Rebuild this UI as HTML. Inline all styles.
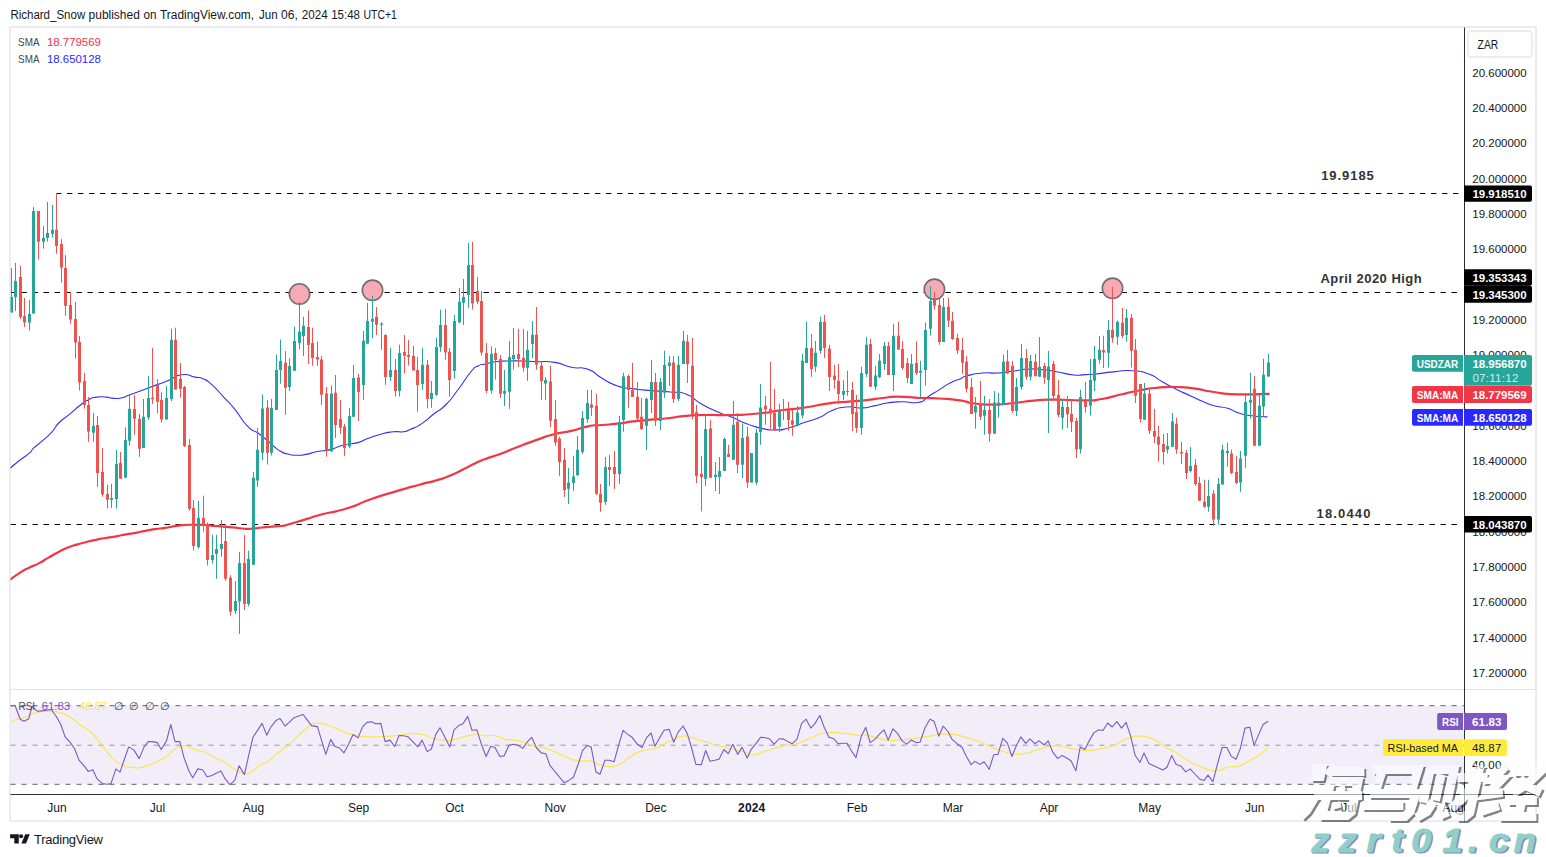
<!DOCTYPE html>
<html><head><meta charset="utf-8"><title>USDZAR chart</title>
<style>
html,body{margin:0;padding:0;background:#fff;}
body{width:1546px;height:857px;overflow:hidden;position:relative;font-family:"Liberation Sans",sans-serif;}
svg{position:absolute;left:0;top:0;}
text{font-family:"Liberation Sans",sans-serif;}
.ax{font-size:11.5px;fill:#131722;}
.lb{font-size:11.5px;font-weight:bold;fill:#fff;}
.tm{font-size:12px;fill:#131722;text-anchor:middle;}
</style></head><body>
<svg width="1546" height="857" viewBox="0 0 1546 857">
<defs>
<filter id="ws" x="-5%" y="-10%" width="110%" height="130%"><feGaussianBlur in="SourceAlpha" stdDeviation="0.75"/><feOffset dx="1.6" dy="1.6" result="o"/><feComposite in="o" in2="SourceAlpha" operator="out" result="s"/><feFlood flood-color="#20222c" flood-opacity="0.56"/><feComposite in2="s" operator="in"/></filter>
<clipPath id="cp"><rect x="10.5" y="27.5" width="1453.5" height="662"/></clipPath>
<clipPath id="cr"><rect x="10.5" y="690" width="1453.5" height="104"/></clipPath>
</defs>
<rect x="0" y="0" width="1546" height="857" fill="#fff"/>

<rect x="10" y="27" width="1526" height="794.1" fill="none" stroke="#ebecf2" stroke-width="2"/>
<rect x="10.5" y="689" width="1525" height="1" fill="#e0e3eb"/>
<rect x="10.5" y="705.7" width="1453.5" height="78.6" fill="#f1eefa"/>
<path d="M10.5 705.7H1464" stroke="#5d606b" stroke-width="1" stroke-dasharray="5 6" fill="none"/>
<path d="M10.5 784.3H1464" stroke="#5d606b" stroke-width="1" stroke-dasharray="5 6" fill="none"/>
<path d="M10.5 745.2H1464" stroke="#9598a1" stroke-width="1" stroke-dasharray="5 6" fill="none"/>
<g clip-path="url(#cp)">
<path d="M56 193.5H1460" stroke="#000" stroke-width="1.1" stroke-dasharray="5.4 5.6" fill="none"/>
<path d="M10.5 292.5H1460" stroke="#000" stroke-width="1.1" stroke-dasharray="5.4 5.6" fill="none"/>
<path d="M10.5 524.5H1460" stroke="#000" stroke-width="1.1" stroke-dasharray="5.4 5.6" fill="none"/>
<circle cx="299.5" cy="294" r="10.2" fill="#f7a9b4" fill-opacity="1" stroke="#6e6e6e" stroke-width="1.6"/>
<circle cx="372.5" cy="290.3" r="10.2" fill="#f7a9b4" fill-opacity="1" stroke="#6e6e6e" stroke-width="1.6"/>
<circle cx="934.4" cy="289.3" r="10.2" fill="#f7a9b4" fill-opacity="1" stroke="#6e6e6e" stroke-width="1.6"/>
<circle cx="1112.5" cy="288.3" r="10.2" fill="#f7a9b4" fill-opacity="1" stroke="#6e6e6e" stroke-width="1.6"/>
<path d="M10.1 468.2C12.8 466.0 11.8 466.5 18.2 461.5C24.6 456.5 24.3 457.5 29.4 453.1C34.5 448.7 29.4 452.2 33.6 448.2C37.8 444.2 35.9 446.6 42.0 441.2C48.1 435.8 46.2 438.2 51.8 432.1C57.4 426.0 52.7 429.1 58.8 423.0C64.9 416.9 63.0 419.7 70.0 413.9C77.0 408.1 73.7 410.2 79.8 405.5C85.9 400.8 82.6 402.7 88.2 399.9C93.8 397.1 90.5 398.0 96.6 397.1C102.7 396.2 101.3 396.8 106.4 397.1C111.5 397.4 107.1 397.8 112.0 398.1C116.9 398.4 115.0 399.1 121.0 398.0C127.0 396.9 120.7 398.1 130.0 394.7C139.3 391.3 136.4 392.4 149.0 387.7C161.6 383.0 156.8 385.0 167.7 380.7C178.6 376.4 172.6 376.0 181.7 374.8C190.8 373.6 187.9 375.8 195.0 377.1C202.1 378.4 197.3 376.2 202.9 378.7C208.5 381.2 205.0 378.7 211.8 384.7C218.6 390.7 215.7 388.6 223.4 396.8C231.1 405.0 226.9 399.6 234.9 409.4C242.9 419.2 239.8 418.3 247.5 426.2C255.2 434.1 251.7 428.5 258.0 433.0C264.3 437.5 259.7 434.3 266.4 439.8C273.1 445.3 270.9 444.9 278.0 449.6C285.1 454.3 281.3 452.1 287.8 454.0C294.3 455.9 291.5 455.1 297.6 455.2C303.7 455.3 299.4 455.6 306.0 454.4C312.6 453.2 309.4 453.1 317.5 451.5C325.6 449.9 321.8 451.8 330.4 449.6C339.0 447.4 334.2 447.3 343.4 445.0C352.6 442.7 349.8 444.7 357.9 442.6C366.0 440.5 360.0 441.4 367.6 438.6C375.2 435.8 372.0 436.5 380.6 434.2C389.2 431.9 386.0 432.6 393.5 431.8C401.0 431.0 397.9 432.5 403.2 431.8C408.5 431.1 403.3 432.4 409.5 429.7C415.7 427.0 413.6 428.9 421.8 423.6C430.0 418.3 425.9 420.2 434.0 413.8C442.1 407.4 437.8 412.8 446.0 404.5C454.2 396.2 450.2 399.8 458.5 389.0C466.8 378.2 464.3 379.7 470.8 372.0C477.3 364.3 473.1 368.7 478.0 366.0C482.9 363.3 479.8 365.4 485.5 364.0C491.2 362.6 487.7 362.8 495.0 361.8C502.3 360.8 498.5 361.3 507.5 361.0C516.5 360.7 512.3 360.8 522.0 361.0C531.7 361.2 525.8 361.1 536.7 361.6C547.6 362.1 543.2 360.5 554.7 362.4C566.2 364.3 560.2 365.0 571.3 367.3C582.4 369.6 577.8 365.6 588.0 369.3C598.2 373.0 592.1 372.7 602.0 378.3C611.9 383.9 607.3 382.6 617.6 386.0C627.9 389.4 622.7 387.1 633.0 388.6C643.3 390.1 635.9 389.3 648.4 390.4C660.9 391.5 657.9 390.8 670.4 392.0C682.9 393.2 675.6 390.1 685.8 394.0C696.0 397.9 690.7 397.9 701.0 403.7C711.3 409.5 706.3 406.9 716.6 411.4C726.9 415.9 721.7 413.1 732.0 417.3C742.3 421.5 737.1 420.2 747.4 424.0C757.7 427.8 753.4 426.6 762.8 428.6C772.2 430.6 767.1 430.1 775.7 429.9C784.3 429.7 778.7 430.5 788.5 428.0C798.3 425.5 794.5 425.9 805.0 422.3C815.5 418.7 811.2 421.1 819.9 417.3C828.6 413.5 822.3 414.4 831.0 411.0C839.7 407.6 836.0 408.0 846.0 407.0C856.0 406.0 851.7 408.3 861.0 407.9C870.3 407.5 865.3 407.5 874.0 405.9C882.7 404.3 877.7 404.4 887.0 403.0C896.3 401.6 891.4 402.0 902.0 401.8C912.6 401.6 910.1 404.0 918.8 402.3C927.5 400.6 921.1 400.9 928.0 396.7C934.9 392.5 931.9 394.3 939.4 389.6C946.9 384.9 943.7 386.2 950.6 382.7C957.5 379.2 954.7 381.2 960.0 379.0C965.3 376.8 959.1 378.0 966.6 376.0C974.1 374.0 971.9 374.0 982.4 373.0C992.9 372.0 987.5 373.7 998.0 373.0C1008.5 372.3 1003.3 372.3 1014.0 371.0C1024.7 369.7 1020.0 369.4 1030.0 369.0C1040.0 368.6 1034.7 368.8 1044.0 369.8C1053.3 370.8 1047.9 370.3 1057.8 372.0C1067.7 373.7 1064.6 374.1 1073.7 375.0C1082.8 375.9 1077.9 374.9 1085.0 374.6C1092.1 374.3 1085.4 374.9 1095.0 374.0C1104.6 373.1 1101.3 373.0 1113.7 371.9C1126.1 370.8 1120.6 370.0 1132.3 370.7C1144.0 371.4 1138.6 370.3 1148.7 374.0C1158.8 377.7 1153.4 376.8 1162.7 381.9C1172.0 387.0 1167.4 384.7 1176.7 389.4C1186.0 394.1 1181.9 391.8 1190.7 395.9C1199.5 400.0 1195.2 398.3 1203.0 401.6C1210.8 404.9 1205.8 403.6 1214.0 405.8C1222.2 408.0 1219.4 405.9 1227.6 408.3C1235.8 410.7 1230.6 410.5 1238.7 413.0C1246.8 415.5 1242.4 414.5 1252.0 415.8C1261.6 417.1 1262.3 416.5 1267.5 416.9" stroke="#2f2ffb" stroke-width="1.1" fill="none" stroke-linejoin="round"/>
<path d="M10.1 579.6C13.2 577.4 13.1 577.1 19.4 573.1C25.7 569.1 22.6 570.9 29.1 567.7C35.6 564.5 32.3 566.8 38.8 563.4C45.3 560.0 42.0 561.3 48.5 557.6C55.0 553.9 51.7 555.6 58.2 552.2C64.7 548.8 61.4 550.1 67.9 547.5C74.4 544.9 71.1 546.3 77.6 544.4C84.1 542.5 80.8 543.3 87.3 541.7C93.8 540.1 90.5 540.9 97.0 539.6C103.5 538.3 100.2 538.9 106.7 537.8C113.2 536.7 109.9 537.5 116.4 536.3C122.9 535.1 119.6 535.5 126.1 534.3C132.6 533.1 129.3 534.0 135.8 532.8C142.3 531.6 139.0 532.0 145.5 530.8C152.0 529.6 148.8 530.1 155.3 529.1C161.8 528.1 158.5 528.9 165.0 527.9C171.5 526.9 168.2 527.2 174.7 526.2C181.2 525.2 178.0 525.5 184.4 525.0C190.8 524.5 187.5 524.8 194.0 524.8C200.5 524.8 197.3 524.7 203.8 525.0C210.3 525.3 207.0 525.3 213.5 525.8C220.0 526.3 216.7 526.1 223.2 526.6C229.7 527.1 226.4 526.8 232.9 527.4C239.4 528.0 236.1 528.1 242.6 528.5C249.1 528.9 245.8 529.0 252.3 528.7C258.8 528.4 255.5 528.2 262.0 527.5C268.5 526.8 265.2 527.1 271.7 526.6C278.2 526.1 275.3 526.9 281.4 526.0C287.5 525.1 281.7 526.3 290.0 524.0C298.3 521.7 295.4 522.3 306.2 519.1C317.0 515.9 308.8 517.8 322.3 514.3C335.8 510.8 330.4 513.5 346.6 508.5C362.8 503.5 354.7 504.8 370.9 499.2C387.1 493.6 378.9 496.4 395.1 491.6C411.3 486.8 405.9 488.4 419.4 484.7C432.9 481.0 424.7 483.8 435.5 480.6C446.3 477.4 440.9 479.6 451.7 475.0C462.5 470.4 457.1 472.0 467.9 466.9C478.7 461.8 473.2 463.9 484.0 459.6C494.8 455.3 489.4 458.0 500.2 454.0C511.0 450.0 504.2 452.2 516.4 447.5C528.6 442.8 523.9 444.4 536.7 439.9C549.5 435.4 543.2 437.0 554.7 434.0C566.2 431.0 560.2 433.5 571.3 430.9C582.4 428.3 577.8 428.3 588.0 426.3C598.2 424.3 592.1 425.9 602.0 425.0C611.9 424.1 607.3 424.9 617.6 423.7C627.9 422.5 622.7 422.7 633.0 421.4C643.3 420.1 636.1 421.0 648.4 419.9C660.7 418.8 657.5 419.4 670.0 418.0C682.5 416.6 673.8 416.8 685.8 415.8C697.8 414.8 690.6 415.3 706.0 415.0C721.4 414.7 714.8 415.5 732.0 415.0C749.2 414.5 740.6 415.2 757.7 413.5C774.8 411.8 767.6 412.0 783.4 410.0C799.2 408.0 790.5 409.6 805.0 407.5C819.5 405.4 813.3 405.5 827.0 403.6C840.7 401.7 833.4 402.9 846.0 401.8C858.6 400.7 852.4 401.7 864.7 400.4C877.0 399.1 871.9 399.2 883.0 398.0C894.1 396.8 885.4 396.7 898.0 396.7C910.6 396.7 906.9 397.4 920.7 398.0C934.5 398.6 926.3 397.7 939.4 398.5C952.5 399.3 948.3 398.7 960.0 400.4C971.7 402.1 963.1 402.1 974.5 403.5C985.9 404.9 981.1 404.7 994.3 404.5C1007.5 404.3 1000.8 404.3 1014.0 403.0C1027.2 401.7 1020.7 401.7 1034.0 400.6C1047.3 399.5 1036.9 399.7 1053.9 399.6C1070.9 399.5 1069.0 400.5 1085.0 400.3C1101.0 400.1 1090.1 400.9 1102.0 399.0C1113.9 397.1 1108.4 397.3 1120.7 394.5C1133.0 391.7 1126.6 392.8 1139.0 390.5C1151.4 388.2 1145.4 388.9 1158.0 387.7C1170.6 386.5 1164.4 386.7 1176.7 387.0C1189.0 387.3 1182.6 387.0 1195.0 388.7C1207.4 390.4 1200.2 390.1 1214.0 392.0C1227.8 393.9 1218.3 393.7 1236.5 394.3C1254.7 394.9 1258.0 394.0 1268.7 393.9" stroke="#f23645" stroke-width="2.2" fill="none" stroke-linejoin="round" stroke-linecap="round"/>
<path d="M11.5 268.0V312.5M15.5 263.0V311.0M29.5 300.0V330.6M33.5 207.0V313.6M43.5 226.0V248.7M47.5 202.0V241.7M52.5 205.0V237.5M93.5 413.0V441.8M111.5 483.8V507.9M116.5 450.0V508.6M125.5 427.4V477.8M129.5 394.0V445.6M143.5 399.0V447.9M148.5 376.0V419.9M166.5 386.0V419.6M171.5 328.9V401.0M198.5 501.0V548.8M212.5 534.9V563.5M216.5 534.9V578.7M221.5 520.0V556.7M235.5 581.0V613.8M239.5 551.8V633.9M248.5 550.8V606.4M253.5 472.0V564.8M257.5 427.8V486.7M262.5 394.7V460.0M271.5 399.0V455.4M276.5 354.7V409.9M280.5 339.5V383.7M289.5 358.4V391.0M294.5 326.6V370.7M299.5 302.0V349.0M303.5 316.8V356.0M331.5 385.4V451.5M349.5 407.9V448.3M353.5 365.0V416.7M363.5 331.0V400.0M367.5 303.0V343.7M372.5 296.0V338.3M381.5 322.4V349.8M390.5 348.0V381.0M399.5 344.7V396.6M422.5 348.0V389.8M431.5 381.0V407.7M436.5 337.8V395.9M440.5 309.6V351.8M454.5 315.0V378.7M459.5 288.0V322.6M463.5 279.0V325.0M468.5 243.0V307.9M491.5 346.4V393.7M504.5 370.0V406.0M509.5 341.0V408.9M513.5 328.0V369.7M527.5 330.9V380.8M532.5 321.0V358.2M545.5 377.0V400.0M568.5 468.0V504.0M573.5 455.8V490.8M577.5 436.0V475.9M582.5 411.0V454.0M587.5 389.9V423.0M605.5 457.0V504.9M619.5 416.0V484.0M623.5 372.7V431.7M646.5 397.6V450.0M651.5 359.8V413.0M660.5 378.0V430.0M664.5 350.7V397.8M669.5 356.0V386.0M678.5 356.0V401.0M683.5 331.0V363.9M705.5 415.0V485.9M715.5 462.0V491.0M719.5 457.0V494.0M724.5 437.6V471.0M733.5 401.0V459.7M742.5 423.7V478.0M751.5 453.0V482.5M756.5 428.9V485.0M760.5 383.9V444.8M779.5 403.7V432.0M797.5 406.0V426.5M802.5 354.0V418.4M806.5 321.8V362.9M815.5 341.0V371.9M820.5 316.8V353.8M843.5 379.9V399.9M861.5 366.8V434.8M866.5 337.0V376.9M875.5 365.9V390.0M879.5 354.0V378.0M884.5 342.0V370.0M893.5 323.9V391.0M911.5 354.0V384.0M920.5 360.8V397.0M925.5 322.7V385.8M930.5 286.0V335.7M943.5 298.0V342.0M975.5 397.0V428.7M984.5 396.0V434.7M994.5 391.0V433.7M998.5 393.0V417.8M1003.5 354.9V404.9M1016.5 378.0V416.0M1021.5 344.0V389.7M1030.5 354.9V380.5M1039.5 337.0V376.8M1048.5 351.0V433.0M1062.5 400.0V429.6M1080.5 389.8V453.5M1090.5 359.0V415.5M1094.5 346.0V391.0M1099.5 336.0V363.7M1108.5 320.0V367.6M1117.5 320.5V345.0M1126.5 309.0V341.5M1144.5 383.0V419.7M1167.5 433.0V453.5M1172.5 413.0V446.9M1190.5 447.0V472.5M1208.5 479.7V511.8M1218.5 477.9V524.7M1222.5 444.9V484.6M1227.5 442.6V466.8M1240.5 450.9V491.9M1245.5 395.0V467.9M1250.5 372.8V418.7M1259.5 395.0V445.8M1263.5 358.8V416.0M1268.5 353.7V376.6" stroke="#26a69a" stroke-width="1" fill="none"/>
<path d="M20.5 266.0V319.0M24.5 298.0V327.0M38.5 211.0V259.6M56.5 193.0V253.7M61.5 239.0V282.7M65.5 255.0V315.7M70.5 291.7V323.7M75.5 302.0V358.6M79.5 336.0V390.5M84.5 373.0V408.7M88.5 397.0V441.8M97.5 416.0V486.9M102.5 447.9V496.7M107.5 484.8V508.6M120.5 452.0V478.7M134.5 395.0V434.8M139.5 414.0V456.8M152.5 348.0V404.0M157.5 379.0V413.3M161.5 392.3V422.7M175.5 327.7V389.5M180.5 363.0V397.7M184.5 386.0V447.0M189.5 439.0V510.9M193.5 500.0V550.6M203.5 495.7V531.7M207.5 522.6V565.5M225.5 524.0V580.7M230.5 575.0V615.7M244.5 534.9V610.0M267.5 400.0V464.6M285.5 351.0V414.8M308.5 310.6V364.0M312.5 327.8V365.8M317.5 341.7V365.8M321.5 356.0V405.0M326.5 387.0V456.7M335.5 375.0V438.0M340.5 400.0V433.9M344.5 423.8V455.9M358.5 373.9V420.9M376.5 307.0V335.0M385.5 334.2V384.9M395.5 359.0V396.6M404.5 334.9V373.3M408.5 340.0V365.5M413.5 345.9V370.4M417.5 357.0V411.8M427.5 360.0V408.4M445.5 308.9V359.9M449.5 348.0V396.6M472.5 241.8V309.6M477.5 277.0V304.0M481.5 291.0V355.5M486.5 343.0V393.0M495.5 348.0V379.5M500.5 355.0V397.9M518.5 329.0V367.0M523.5 328.8V371.7M536.5 307.0V369.8M541.5 361.0V400.0M550.5 365.5V427.0M555.5 400.0V445.8M559.5 436.8V475.9M564.5 448.0V497.0M591.5 389.9V416.0M596.5 394.0V495.0M600.5 484.0V511.8M609.5 454.8V486.0M614.5 451.0V489.0M628.5 374.5V407.8M632.5 362.9V397.0M637.5 382.0V420.7M641.5 398.0V430.0M655.5 373.0V426.0M673.5 356.0V403.0M687.5 334.9V383.0M692.5 338.0V419.6M696.5 405.0V483.0M701.5 455.8V511.5M710.5 419.9V477.7M728.5 444.8V456.9M737.5 412.7V473.0M747.5 426.8V487.9M765.5 396.0V424.8M770.5 361.9V428.9M774.5 388.8V431.0M783.5 399.0V420.0M788.5 401.7V430.7M792.5 409.5V435.7M811.5 334.0V376.9M824.5 314.9V357.9M829.5 344.8V390.9M834.5 365.0V388.7M838.5 364.0V401.8M847.5 370.9V395.8M852.5 381.8V431.0M856.5 394.8V432.9M870.5 338.8V386.8M888.5 342.0V375.0M898.5 322.0V350.0M902.5 341.0V370.0M907.5 357.9V383.0M916.5 341.3V375.0M934.5 291.9V309.7M939.5 298.0V344.9M948.5 298.0V327.0M952.5 312.0V339.9M957.5 333.8V353.9M962.5 338.0V373.8M966.5 355.9V392.6M971.5 378.0V413.9M980.5 381.0V420.0M989.5 399.0V441.6M1007.5 350.0V373.6M1012.5 360.9V412.9M1026.5 349.0V379.7M1035.5 354.0V376.8M1044.5 363.0V383.7M1053.5 360.9V399.0M1058.5 380.0V417.0M1067.5 396.0V428.0M1071.5 399.5V432.0M1076.5 418.0V458.0M1085.5 381.9V412.7M1103.5 335.7V368.0M1112.5 286.7V342.7M1122.5 308.0V338.0M1131.5 314.0V367.6M1135.5 339.0V403.0M1140.5 384.0V422.5M1149.5 389.8V434.0M1154.5 409.0V443.0M1158.5 426.0V461.7M1163.5 434.0V464.5M1176.5 418.0V453.8M1181.5 442.0V463.8M1186.5 450.0V479.0M1195.5 459.0V485.9M1199.5 476.8V500.7M1204.5 479.7V508.0M1213.5 490.0V525.8M1231.5 449.7V474.0M1236.5 455.7V484.0M1254.5 375.9V445.8" stroke="#ef5350" stroke-width="1" fill="none"/>
<path d="M10 297.0h3V312.5h-3zM14 281.0h3V297.0h-3zM28 314.0h3V322.6h-3zM32 211.0h3V313.6h-3zM42 238.0h3V241.7h-3zM46 233.0h3V238.0h-3zM51 229.7h3V233.7h-3zM92 426.0h3V432.7h-3zM110 498.0h3V499.7h-3zM115 464.0h3V499.0h-3zM124 440.0h3V477.8h-3zM128 408.7h3V440.7h-3zM142 416.8h3V447.9h-3zM147 398.0h3V417.5h-3zM165 398.0h3V419.6h-3zM170 339.8h3V398.9h-3zM197 517.7h3V546.9h-3zM211 555.0h3V559.9h-3zM215 549.0h3V554.0h-3zM220 544.0h3V549.0h-3zM234 601.0h3V611.0h-3zM238 563.0h3V601.5h-3zM247 559.0h3V604.0h-3zM252 477.8h3V564.8h-3zM256 449.8h3V480.5h-3zM261 408.6h3V452.8h-3zM270 407.9h3V452.8h-3zM275 370.0h3V409.9h-3zM279 360.9h3V370.0h-3zM288 366.0h3V387.0h-3zM293 341.0h3V370.7h-3zM298 331.5h3V343.0h-3zM302 325.8h3V335.9h-3zM330 393.5h3V451.5h-3zM348 416.0h3V446.6h-3zM352 378.0h3V416.7h-3zM362 340.8h3V384.9h-3zM366 320.9h3V343.7h-3zM371 318.7h3V321.7h-3zM380 323.6h3V324.8h-3zM389 370.0h3V377.0h-3zM398 353.0h3V391.0h-3zM421 364.8h3V383.9h-3zM430 393.0h3V399.0h-3zM435 347.0h3V394.7h-3zM439 325.0h3V347.0h-3zM453 321.0h3V370.9h-3zM458 301.8h3V322.6h-3zM462 297.0h3V302.8h-3zM467 265.0h3V295.0h-3zM490 354.0h3V390.5h-3zM503 391.0h3V393.7h-3zM508 357.0h3V391.7h-3zM512 355.0h3V359.0h-3zM526 350.0h3V367.8h-3zM531 334.8h3V344.0h-3zM544 380.0h3V383.4h-3zM567 482.8h3V488.7h-3zM572 476.6h3V483.0h-3zM576 449.7h3V475.0h-3zM581 418.0h3V452.0h-3zM586 403.0h3V418.9h-3zM604 466.9h3V502.0h-3zM618 422.0h3V474.0h-3zM622 376.5h3V420.0h-3zM645 398.8h3V425.8h-3zM650 382.0h3V400.0h-3zM659 382.0h3V421.0h-3zM663 365.0h3V392.8h-3zM668 362.6h3V366.0h-3zM677 364.7h3V399.0h-3zM682 340.8h3V363.9h-3zM704 429.0h3V478.7h-3zM714 474.8h3V476.9h-3zM718 471.0h3V476.9h-3zM723 438.9h3V471.0h-3zM732 424.8h3V459.7h-3zM741 437.9h3V464.8h-3zM750 453.0h3V482.5h-3zM755 432.7h3V482.5h-3zM759 407.6h3V432.0h-3zM778 410.9h3V426.8h-3zM796 412.6h3V425.5h-3zM801 360.7h3V415.5h-3zM805 348.0h3V362.9h-3zM814 352.8h3V366.7h-3zM819 321.8h3V350.8h-3zM842 390.9h3V394.8h-3zM860 373.0h3V427.9h-3zM865 344.8h3V374.0h-3zM874 375.6h3V386.8h-3zM878 360.7h3V376.9h-3zM883 345.7h3V364.0h-3zM892 335.8h3V375.0h-3zM910 364.0h3V384.0h-3zM919 370.8h3V372.8h-3zM924 330.0h3V369.9h-3zM929 301.0h3V328.7h-3zM942 307.0h3V342.0h-3zM974 405.9h3V412.5h-3zM983 409.9h3V415.8h-3zM993 402.6h3V433.7h-3zM997 402.6h3V405.9h-3zM1002 361.7h3V404.9h-3zM1015 387.0h3V410.9h-3zM1020 357.9h3V387.0h-3zM1029 360.9h3V376.8h-3zM1038 366.8h3V376.8h-3zM1047 366.6h3V380.0h-3zM1061 406.7h3V417.8h-3zM1079 396.9h3V448.9h-3zM1089 380.0h3V405.7h-3zM1093 359.0h3V380.7h-3zM1098 349.7h3V359.7h-3zM1107 329.8h3V352.7h-3zM1116 322.0h3V336.8h-3zM1125 317.7h3V335.0h-3zM1143 393.6h3V419.7h-3zM1166 446.0h3V449.6h-3zM1171 421.6h3V446.7h-3zM1189 465.9h3V471.0h-3zM1207 495.9h3V506.7h-3zM1217 484.0h3V519.6h-3zM1221 449.7h3V484.6h-3zM1226 450.9h3V453.0h-3zM1239 458.6h3V482.6h-3zM1244 402.0h3V455.7h-3zM1249 399.9h3V402.7h-3zM1258 405.8h3V445.8h-3zM1262 374.8h3V406.5h-3zM1267 362.6h3V376.6h-3z" fill="#26a69a"/>
<path d="M19 277.0h3V317.0h-3zM23 316.0h3V322.6h-3zM37 211.0h3V241.7h-3zM55 229.7h3V246.0h-3zM60 244.0h3V267.6h-3zM64 268.0h3V305.8h-3zM69 305.0h3V319.5h-3zM74 319.0h3V342.6h-3zM78 342.0h3V382.5h-3zM83 381.0h3V405.0h-3zM87 405.0h3V431.5h-3zM96 425.0h3V472.9h-3zM101 472.0h3V494.6h-3zM106 493.9h3V499.7h-3zM119 463.0h3V478.7h-3zM133 409.0h3V418.7h-3zM138 418.7h3V448.8h-3zM151 397.7h3V399.3h-3zM156 384.9h3V401.7h-3zM160 400.0h3V419.6h-3zM174 339.8h3V389.5h-3zM179 379.0h3V388.8h-3zM183 387.0h3V446.0h-3zM188 445.0h3V508.8h-3zM192 507.9h3V545.9h-3zM202 517.7h3V525.6h-3zM206 524.0h3V559.9h-3zM224 541.0h3V578.7h-3zM229 577.8h3V611.8h-3zM243 563.0h3V604.0h-3zM266 407.4h3V452.8h-3zM284 362.8h3V387.8h-3zM307 327.0h3V345.0h-3zM311 343.0h3V357.9h-3zM316 357.0h3V359.6h-3zM320 359.6h3V394.7h-3zM325 393.5h3V450.8h-3zM334 392.7h3V425.0h-3zM339 418.9h3V427.8h-3zM343 426.5h3V447.9h-3zM357 377.5h3V392.0h-3zM375 316.8h3V324.8h-3zM384 335.0h3V377.0h-3zM394 370.0h3V391.0h-3zM403 352.0h3V355.7h-3zM407 355.0h3V357.0h-3zM412 356.0h3V370.4h-3zM416 370.0h3V384.9h-3zM426 364.8h3V399.0h-3zM444 325.0h3V352.5h-3zM448 351.8h3V380.0h-3zM471 265.0h3V303.5h-3zM476 291.0h3V301.8h-3zM480 301.0h3V352.5h-3zM485 353.0h3V391.0h-3zM494 353.0h3V359.9h-3zM499 359.0h3V393.7h-3zM517 354.0h3V359.0h-3zM522 357.8h3V367.8h-3zM535 334.7h3V364.7h-3zM540 365.5h3V380.9h-3zM549 381.6h3V420.7h-3zM554 418.9h3V442.5h-3zM558 438.6h3V462.0h-3zM563 459.7h3V490.0h-3zM590 404.5h3V407.8h-3zM595 405.8h3V493.8h-3zM599 493.8h3V502.8h-3zM608 466.9h3V470.0h-3zM613 466.9h3V474.0h-3zM627 376.0h3V389.9h-3zM631 390.0h3V397.0h-3zM636 396.8h3V418.6h-3zM640 416.8h3V428.9h-3zM654 382.0h3V420.8h-3zM672 362.6h3V399.0h-3zM686 341.6h3V363.9h-3zM691 365.7h3V415.0h-3zM695 411.9h3V476.0h-3zM700 473.8h3V476.9h-3zM709 428.6h3V477.7h-3zM727 454.0h3V456.9h-3zM736 421.7h3V464.8h-3zM746 436.6h3V482.5h-3zM764 405.8h3V409.6h-3zM769 408.8h3V413.5h-3zM773 412.7h3V428.9h-3zM782 409.0h3V411.0h-3zM787 410.0h3V419.9h-3zM791 420.6h3V424.8h-3zM810 348.0h3V369.0h-3zM823 321.8h3V348.0h-3zM828 348.5h3V376.9h-3zM833 375.6h3V379.9h-3zM837 380.7h3V394.0h-3zM846 390.9h3V391.9h-3zM851 390.0h3V413.9h-3zM855 411.7h3V427.9h-3zM869 343.9h3V386.8h-3zM887 346.0h3V375.0h-3zM897 335.8h3V349.5h-3zM901 348.9h3V368.0h-3zM906 363.0h3V378.0h-3zM915 362.9h3V373.3h-3zM933 298.0h3V305.7h-3zM938 304.9h3V342.0h-3zM947 306.8h3V320.8h-3zM951 320.8h3V339.0h-3zM956 337.9h3V350.6h-3zM961 350.0h3V362.7h-3zM965 361.7h3V388.7h-3zM970 387.0h3V413.9h-3zM979 403.0h3V416.8h-3zM988 409.9h3V433.7h-3zM1006 361.3h3V373.6h-3zM1011 365.7h3V410.9h-3zM1025 357.9h3V376.8h-3zM1034 361.7h3V376.0h-3zM1043 365.9h3V377.8h-3zM1052 363.9h3V396.0h-3zM1057 395.0h3V414.9h-3zM1066 406.9h3V414.3h-3zM1070 413.9h3V421.9h-3zM1075 421.0h3V449.6h-3zM1084 401.0h3V406.9h-3zM1102 350.0h3V352.5h-3zM1111 329.8h3V338.0h-3zM1121 322.8h3V336.0h-3zM1130 317.7h3V350.8h-3zM1134 349.7h3V395.7h-3zM1139 384.0h3V419.0h-3zM1148 393.6h3V430.7h-3zM1153 430.9h3V436.7h-3zM1157 436.5h3V444.7h-3zM1162 444.0h3V452.0h-3zM1175 423.7h3V449.6h-3zM1180 452.0h3V453.5h-3zM1185 453.0h3V473.0h-3zM1194 464.7h3V484.0h-3zM1198 483.0h3V500.7h-3zM1203 501.8h3V506.7h-3zM1212 493.6h3V519.6h-3zM1230 453.5h3V473.0h-3zM1235 471.9h3V483.0h-3zM1253 388.8h3V445.8h-3z" fill="#ef5350"/>
</g>
<g clip-path="url(#cr)">
<path d="M10.7 722.4C12.8 721.3 12.1 720.9 17.1 719.2C22.1 717.4 19.9 719.0 25.6 717.0C31.3 715.0 28.5 715.0 34.2 713.2C39.8 711.4 37.0 712.2 42.7 711.7C48.4 711.2 45.5 711.3 51.2 711.7C56.9 712.0 53.4 710.8 59.8 712.7C66.2 714.7 63.3 713.2 70.4 717.4C77.6 721.7 74.0 720.4 81.1 725.6C88.2 730.7 84.7 726.3 91.8 733.0C98.9 739.8 95.3 737.3 102.5 745.8C109.6 754.4 106.0 752.0 113.1 758.6C120.2 765.3 117.4 762.8 123.8 765.7C130.2 768.5 127.4 766.5 132.3 767.2C137.3 767.9 133.8 768.3 138.7 767.8C143.7 767.3 141.6 767.5 147.3 765.7C153.0 763.8 149.4 765.3 155.8 762.3C162.2 759.2 160.1 760.9 166.5 756.5C172.9 752.1 170.0 752.4 175.0 749.0C180.0 745.7 177.2 747.3 181.4 746.5C185.7 745.6 182.9 745.3 187.8 746.5C192.8 747.7 190.7 748.2 196.4 750.1C202.1 752.0 199.2 749.9 204.9 752.2C210.6 754.6 207.0 753.9 213.4 757.1C219.9 760.3 217.0 757.8 224.1 761.8C231.2 765.9 227.7 765.4 234.8 769.3C241.9 773.2 239.8 772.9 245.5 773.6C251.2 774.3 246.9 774.3 251.9 771.4C256.8 768.6 254.7 768.6 260.4 765.0C266.1 761.5 263.3 764.7 268.9 760.8C274.6 756.9 271.1 758.5 277.5 753.3C283.9 748.1 281.0 751.2 288.2 745.2C295.3 739.1 292.4 741.0 298.8 735.2C305.2 729.3 302.7 731.5 307.4 727.7C312.0 723.9 309.1 725.3 312.7 723.8C316.3 722.4 315.6 723.6 318.0 723.4C320.5 723.3 315.8 722.5 320.0 723.4C324.2 724.3 323.6 723.7 330.7 726.2C337.8 728.7 334.2 728.1 341.3 730.9C348.5 733.7 344.9 732.7 352.0 734.5C359.1 736.4 355.6 735.7 362.7 736.4C369.8 737.2 366.2 736.9 373.4 736.9C380.5 736.9 376.9 736.8 384.0 736.4C391.1 736.1 387.6 736.6 394.7 735.8C401.8 735.0 399.7 734.8 405.4 734.1C411.1 733.4 406.1 733.5 411.8 733.7C417.5 733.9 415.3 733.2 422.5 734.7C429.6 736.3 426.0 736.6 433.1 738.4C440.2 740.1 437.4 739.5 443.8 740.1C450.2 740.6 446.6 740.9 452.3 740.1C458.0 739.3 455.2 739.2 460.9 737.7C466.6 736.2 463.7 736.7 469.4 735.6C475.1 734.5 472.3 734.4 478.0 734.5C483.6 734.6 480.8 735.4 486.5 735.8C492.2 736.2 488.6 734.4 495.0 735.6C501.4 736.8 499.3 737.9 505.7 739.4C512.1 740.9 507.8 739.0 514.2 740.1C520.6 741.1 517.8 740.5 524.9 742.6C532.0 744.8 528.5 744.6 535.6 746.5C542.7 748.4 539.1 746.3 546.3 748.4C553.4 750.5 549.8 749.8 556.9 752.9C564.0 755.9 560.5 754.9 567.6 757.6C574.7 760.2 571.2 759.7 578.3 760.8C585.4 761.8 582.5 759.7 588.9 760.8C595.3 761.8 591.8 762.2 597.5 764.0C603.2 765.8 600.3 765.4 606.0 766.1C611.7 766.8 609.6 767.0 614.6 766.1C619.5 765.3 616.0 766.5 621.0 763.5C625.9 760.6 623.8 760.9 629.5 757.1C635.2 753.4 634.5 754.1 638.0 752.2C641.5 750.4 636.5 752.5 640.0 751.6C643.5 750.7 643.6 750.5 648.5 749.5C653.5 748.5 650.0 750.3 654.9 748.6C659.9 746.9 657.8 747.0 663.5 744.3C669.2 741.6 665.6 743.2 672.0 740.5C678.4 737.8 676.3 737.3 682.7 736.2C689.1 735.2 685.5 735.9 691.2 737.3C696.9 738.7 694.8 739.1 699.8 740.5C704.7 741.9 701.2 740.1 706.2 741.6C711.1 743.0 708.3 742.8 714.7 744.8C721.1 746.7 718.3 745.5 725.4 747.3C732.5 749.1 729.6 748.5 736.1 750.1C742.5 751.7 739.6 750.7 744.6 752.2C749.6 753.8 747.1 754.1 751.0 754.8C754.9 755.5 752.1 755.4 756.3 754.4C760.6 753.3 758.5 753.4 763.8 751.6C769.1 749.8 766.6 750.8 772.3 749.0C778.0 747.3 775.2 747.7 780.9 746.3C786.6 744.8 784.4 745.5 789.4 744.8C794.4 744.1 790.1 745.8 795.8 744.1C801.5 742.5 799.4 742.8 806.5 739.9C813.6 736.9 810.8 737.4 817.2 735.2C823.6 732.9 819.3 733.9 825.7 733.0C832.1 732.2 829.3 732.4 836.4 732.6C843.5 732.8 839.9 732.8 847.0 733.7C854.2 734.5 851.3 734.7 857.7 735.2C864.1 735.7 860.6 734.4 866.3 735.2C871.9 735.9 869.1 735.9 874.8 737.3C880.5 738.7 878.3 738.4 883.3 739.4C888.3 740.5 884.8 740.4 889.7 740.5C894.7 740.6 892.6 740.2 898.3 739.9C904.0 739.5 901.1 739.9 906.8 739.4C912.5 738.9 909.7 739.3 915.3 738.4C921.0 737.4 918.9 737.4 923.9 736.7C928.9 735.9 926.0 736.9 930.3 736.2C934.6 735.5 931.7 735.2 936.7 734.5C941.7 733.8 939.5 734.1 945.2 734.1C950.9 734.1 948.8 734.0 953.8 734.5C958.7 735.0 954.4 734.1 960.0 735.6C965.6 737.1 963.6 736.8 970.7 739.0C977.8 741.2 974.2 739.4 981.3 742.2C988.5 745.0 984.9 744.3 992.0 747.3C999.1 750.3 995.6 749.0 1002.7 751.2C1009.8 753.4 1006.2 753.1 1013.4 753.9C1020.5 754.8 1016.9 754.8 1024.0 753.7C1031.1 752.7 1027.6 752.8 1034.7 750.7C1041.8 748.7 1039.0 749.2 1045.4 747.5C1051.8 745.9 1048.2 746.2 1053.9 745.8C1059.6 745.5 1056.1 745.4 1062.5 746.5C1068.9 747.5 1066.0 747.8 1073.1 749.0C1080.2 750.2 1077.4 749.7 1083.8 750.1C1090.2 750.5 1085.9 750.7 1092.3 750.1C1098.7 749.5 1095.9 750.0 1103.0 748.4C1110.1 746.8 1107.3 747.7 1113.7 745.2C1120.1 742.7 1116.5 743.6 1122.2 740.9C1127.9 738.3 1125.1 738.9 1130.8 737.3C1136.4 735.7 1133.6 736.2 1139.3 736.2C1145.0 736.2 1142.1 735.7 1147.8 737.3C1153.5 738.9 1150.7 737.9 1156.4 740.9C1162.1 744.0 1159.2 743.1 1164.9 746.5C1170.6 749.9 1167.8 747.8 1173.4 751.2C1179.1 754.5 1176.3 752.8 1182.0 756.5C1187.7 760.2 1184.8 759.1 1190.5 762.3C1196.2 765.5 1193.4 763.8 1199.1 766.1C1204.8 768.5 1201.9 767.7 1207.6 769.3C1213.3 770.9 1210.4 771.2 1216.1 770.8C1221.8 770.5 1219.7 769.7 1224.7 768.2C1229.7 766.8 1226.8 767.1 1231.1 766.5C1235.3 766.0 1233.2 767.4 1237.5 766.5C1241.8 765.7 1239.6 766.3 1243.9 764.0C1248.2 761.7 1245.3 762.6 1250.3 759.7C1255.3 756.9 1252.9 759.6 1258.8 755.4C1264.7 751.3 1264.9 750.0 1268.0 747.3" stroke="#fbe64d" stroke-width="1.2" fill="none" stroke-linejoin="round"/>
<path d="M10.7 706.3 L14.9 705.3 L20.3 719.2 L23.9 721.3 L28.8 718.7 L32.0 706.3 L37.4 711.3 L43.8 710.6 L51.2 709.5 L56.6 717.0 L60.8 724.5 L65.1 736.9 L70.4 742.6 L74.7 749.0 L79.0 760.1 L84.3 766.1 L88.2 771.4 L92.8 769.7 L97.1 778.9 L102.5 783.6 L106.7 784.3 L111.0 783.6 L115.9 768.9 L120.0 772.1 L124.2 759.7 L128.7 746.9 L134.0 750.1 L139.2 758.6 L144.1 746.9 L148.3 741.6 L152.6 741.6 L157.3 742.6 L161.2 749.5 L166.5 740.9 L170.8 724.5 L175.0 741.6 L179.9 741.6 L184.0 757.6 L188.9 771.0 L192.7 777.8 L197.9 768.9 L202.8 770.0 L207.0 776.8 L211.3 775.7 L216.2 773.2 L220.9 771.0 L225.2 778.9 L229.9 784.7 L234.8 780.4 L239.1 765.7 L244.4 774.6 L248.7 755.4 L252.9 737.3 L257.2 730.9 L262.1 723.4 L266.8 735.2 L271.1 726.6 L276.4 720.2 L280.0 718.5 L285.0 726.0 L289.2 722.4 L294.1 717.7 L298.8 715.9 L303.1 714.5 L307.4 720.2 L311.6 725.6 L317.4 726.6 L325.8 754.4 L330.7 739.4 L334.9 746.5 L339.6 748.0 L343.9 752.9 L348.8 743.7 L353.1 734.5 L358.0 737.9 L362.7 726.6 L367.0 722.4 L371.2 721.7 L375.9 723.8 L380.8 723.4 L385.1 741.6 L390.0 740.1 L394.7 746.5 L399.0 735.6 L403.7 735.8 L407.9 736.7 L412.8 741.6 L417.8 746.9 L422.0 740.1 L427.2 751.6 L431.4 749.0 L435.9 734.1 L440.0 727.7 L444.9 737.3 L449.8 746.9 L454.0 729.8 L458.7 725.6 L463.0 723.8 L467.7 716.4 L472.0 730.3 L476.9 729.8 L481.2 743.7 L486.1 756.5 L490.8 746.3 L495.0 747.5 L499.9 756.5 L504.0 755.9 L508.9 745.4 L513.2 744.3 L518.1 745.4 L522.8 748.4 L527.0 742.2 L531.7 737.3 L536.2 747.5 L541.3 752.9 L545.8 753.7 L550.1 765.7 L554.8 771.4 L559.5 777.2 L564.4 782.8 L568.7 780.4 L573.4 777.2 L578.3 764.0 L582.5 750.7 L587.2 745.4 L591.1 746.9 L596.0 772.1 L600.0 774.2 L605.0 760.3 L609.2 760.3 L614.1 761.8 L618.4 745.8 L623.1 730.3 L627.4 734.1 L632.1 737.3 L637.4 744.3 L642.1 747.5 L646.4 737.9 L651.1 733.0 L654.9 746.3 L659.6 737.9 L664.1 730.3 L669.2 729.4 L673.7 742.2 L678.0 732.4 L683.1 726.0 L687.4 734.1 L691.9 749.0 L695.9 764.4 L701.3 764.6 L705.7 750.5 L710.0 761.2 L714.7 760.3 L719.0 759.3 L723.9 749.5 L728.2 753.7 L732.8 744.3 L737.8 754.4 L742.0 747.3 L747.2 758.0 L751.0 749.7 L755.9 743.7 L760.6 737.3 L765.5 737.7 L769.8 739.0 L774.0 744.3 L778.7 739.0 L783.0 738.8 L787.7 741.6 L792.2 743.7 L796.9 739.4 L801.6 723.4 L806.1 719.2 L810.8 728.1 L815.0 723.4 L819.9 715.5 L824.2 727.3 L828.9 737.3 L833.8 738.8 L838.1 743.7 L842.8 743.3 L847.0 743.3 L851.7 751.2 L856.0 757.6 L861.3 736.2 L865.8 727.3 L870.1 742.6 L874.8 739.4 L879.5 734.1 L884.0 729.8 L888.2 740.1 L892.9 728.8 L897.8 733.7 L902.1 740.9 L906.8 744.1 L911.1 740.1 L916.0 742.6 L920.0 742.2 L925.0 727.7 L929.9 719.2 L934.1 721.3 L938.8 736.2 L943.1 726.2 L948.0 731.5 L952.1 739.4 L957.0 743.7 L962.1 747.5 L966.4 756.5 L971.1 764.6 L974.9 761.4 L979.9 764.4 L984.1 761.8 L989.2 769.3 L993.7 754.8 L998.0 754.4 L1002.7 738.4 L1007.4 743.1 L1011.9 756.5 L1016.1 746.3 L1020.8 736.9 L1025.7 743.3 L1030.0 738.8 L1034.7 743.7 L1039.0 740.9 L1043.9 744.8 L1048.2 740.9 L1052.8 752.2 L1057.8 758.6 L1062.0 755.4 L1066.7 758.0 L1071.0 760.8 L1075.9 770.8 L1080.2 746.9 L1084.9 749.5 L1089.6 740.1 L1094.0 732.6 L1098.7 729.8 L1103.0 730.5 L1107.7 723.0 L1112.2 727.0 L1116.9 721.7 L1121.6 728.1 L1126.1 722.4 L1130.8 736.7 L1135.0 755.0 L1139.9 762.5 L1144.0 752.9 L1148.9 763.5 L1153.2 765.5 L1158.1 767.8 L1162.8 770.0 L1167.0 767.2 L1171.7 755.4 L1176.2 764.6 L1180.9 766.1 L1185.8 771.9 L1190.1 768.9 L1194.8 774.0 L1199.5 778.9 L1204.0 780.4 L1208.0 775.1 L1212.9 781.7 L1217.8 762.9 L1222.1 747.5 L1226.8 747.5 L1231.1 756.1 L1236.0 759.3 L1240.3 748.6 L1245.0 728.1 L1249.9 727.3 L1254.1 745.4 L1258.8 734.1 L1263.1 724.5 L1268.0 721.3" stroke="#7e57c2" stroke-width="1.1" fill="none" stroke-linejoin="round"/>
</g>
<rect x="1464" y="27.5" width="1" height="794" fill="#2a2e39"/>
<rect x="10.5" y="794" width="1525" height="1" fill="#2a2e39"/>
<text x="10.4" y="19" font-size="12" fill="#131722" textLength="74.8" lengthAdjust="spacingAndGlyphs">Richard_Snow</text>
<text x="88.6" y="19" font-size="12" fill="#131722" textLength="51.2" lengthAdjust="spacingAndGlyphs">published</text>
<text x="143.4" y="19" font-size="12" fill="#131722" textLength="13.0" lengthAdjust="spacingAndGlyphs">on</text>
<text x="160" y="19" font-size="12" fill="#131722" textLength="94.0" lengthAdjust="spacingAndGlyphs">TradingView.com,</text>
<text x="259" y="19" font-size="12" fill="#131722" textLength="18.6" lengthAdjust="spacingAndGlyphs">Jun</text>
<text x="281.1" y="19" font-size="12" fill="#131722" textLength="16.8" lengthAdjust="spacingAndGlyphs">06,</text>
<text x="301.7" y="19" font-size="12" fill="#131722" textLength="26.0" lengthAdjust="spacingAndGlyphs">2024</text>
<text x="331.2" y="19" font-size="12" fill="#131722" textLength="28.8" lengthAdjust="spacingAndGlyphs">15:48</text>
<text x="363.6" y="19" font-size="12" fill="#131722" textLength="33.2" lengthAdjust="spacingAndGlyphs">UTC+1</text>
<text x="18.1" y="45.6" font-size="11.5" fill="#434651" textLength="21.4" lengthAdjust="spacingAndGlyphs">SMA</text>
<text x="46.9" y="45.6" font-size="11.5" fill="#f23645" textLength="54.1" lengthAdjust="spacing">18.779569</text>
<text x="18.1" y="62.6" font-size="11.5" fill="#434651" textLength="21.4" lengthAdjust="spacingAndGlyphs">SMA</text>
<text x="46.9" y="62.6" font-size="11.5" fill="#2929ff" textLength="54.1" lengthAdjust="spacing">18.650128</text>
<rect x="1468" y="31" width="64" height="26" rx="3.5" fill="#fff" stroke="#ecedf3" stroke-width="2"/>
<text x="1477.6" y="48.9" font-size="12" fill="#131722" textLength="20.6" lengthAdjust="spacingAndGlyphs">ZAR</text>
<text class="ax" x="1472.3" y="76.7" textLength="54.3" lengthAdjust="spacing">20.600000</text>
<text class="ax" x="1472.3" y="112.0" textLength="54.3" lengthAdjust="spacing">20.400000</text>
<text class="ax" x="1472.3" y="147.3" textLength="54.3" lengthAdjust="spacing">20.200000</text>
<text class="ax" x="1472.3" y="182.6" textLength="54.3" lengthAdjust="spacing">20.000000</text>
<text class="ax" x="1472.3" y="217.9" textLength="54.3" lengthAdjust="spacing">19.800000</text>
<text class="ax" x="1472.3" y="253.2" textLength="54.3" lengthAdjust="spacing">19.600000</text>
<text class="ax" x="1472.3" y="288.5" textLength="54.3" lengthAdjust="spacing">19.400000</text>
<text class="ax" x="1472.3" y="323.8" textLength="54.3" lengthAdjust="spacing">19.200000</text>
<text class="ax" x="1472.3" y="359.1" textLength="54.3" lengthAdjust="spacing">19.000000</text>
<text class="ax" x="1472.3" y="394.4" textLength="54.3" lengthAdjust="spacing">18.800000</text>
<text class="ax" x="1472.3" y="429.7" textLength="54.3" lengthAdjust="spacing">18.600000</text>
<text class="ax" x="1472.3" y="465.0" textLength="54.3" lengthAdjust="spacing">18.400000</text>
<text class="ax" x="1472.3" y="500.3" textLength="54.3" lengthAdjust="spacing">18.200000</text>
<text class="ax" x="1472.3" y="535.6" textLength="54.3" lengthAdjust="spacing">18.000000</text>
<text class="ax" x="1472.3" y="570.9" textLength="54.3" lengthAdjust="spacing">17.800000</text>
<text class="ax" x="1472.3" y="606.2" textLength="54.3" lengthAdjust="spacing">17.600000</text>
<text class="ax" x="1472.3" y="641.5" textLength="54.3" lengthAdjust="spacing">17.400000</text>
<text class="ax" x="1472.3" y="676.8" textLength="54.3" lengthAdjust="spacing">17.200000</text>
<path d="M1464 185.4h66a2 2 0 0 1 2 2v12.399999999999999a2 2 0 0 1 -2 2h-66z" fill="#000"/>
<text class="lb" x="1472.4" y="197.8" textLength="54.2" lengthAdjust="spacing" fill="#fff">19.918510</text>
<path d="M1464 269.2h66a2 2 0 0 1 2 2v12.600000000000001a2 2 0 0 1 -2 2h-66z" fill="#000"/>
<text class="lb" x="1472.4" y="281.7" textLength="54.2" lengthAdjust="spacing" fill="#fff">19.353343</text>
<path d="M1464 285.8h66a2 2 0 0 1 2 2v13a2 2 0 0 1 -2 2h-66z" fill="#000"/>
<text class="lb" x="1472.4" y="298.5" textLength="54.2" lengthAdjust="spacing" fill="#fff">19.345300</text>
<path d="M1464 516h66a2 2 0 0 1 2 2v12.600000000000001a2 2 0 0 1 -2 2h-66z" fill="#000"/>
<text class="lb" x="1472.4" y="528.5" textLength="54.2" lengthAdjust="spacing" fill="#fff">18.043870</text>
<path d="M1464 355h66a2 2 0 0 1 2 2v26.7a2 2 0 0 1 -2 2h-66z" fill="#26a69a"/>
<text class="lb" x="1472.4" y="368.1" textLength="54.2" lengthAdjust="spacing">18.956870</text>
<text x="1472.4" y="381.8" font-size="11.5" fill="#fff" fill-opacity="0.8" textLength="46" lengthAdjust="spacing">07:11:12</text>
<path d="M1414 355h49v16.8h-49a2 2 0 0 1 -2 -2v-12.8a2 2 0 0 1 2 -2z" fill="#26a69a"/>
<text x="1416.8" y="367.6" font-size="11.5" font-weight="bold" fill="#fff" textLength="41.4" lengthAdjust="spacingAndGlyphs">USDZAR</text>
<path d="M1414 386.1h49v16.8h-49a2 2 0 0 1 -2 -2v-12.8a2 2 0 0 1 2 -2z" fill="#f23645"/>
<text x="1416.8" y="398.7" font-size="11.5" font-weight="bold" fill="#fff" textLength="41.4" lengthAdjust="spacingAndGlyphs">SMA:MA</text>
<path d="M1464 386.1h66a2 2 0 0 1 2 2v12.8a2 2 0 0 1 -2 2h-66z" fill="#f23645"/>
<text class="lb" x="1472.4" y="398.7" textLength="54.2" lengthAdjust="spacing" fill="#fff">18.779569</text>
<path d="M1414 409h49v16.8h-49a2 2 0 0 1 -2 -2v-12.8a2 2 0 0 1 2 -2z" fill="#2929ff"/>
<text x="1416.8" y="421.6" font-size="11.5" font-weight="bold" fill="#fff" textLength="41.4" lengthAdjust="spacingAndGlyphs">SMA:MA</text>
<path d="M1464 409h66a2 2 0 0 1 2 2v12.8a2 2 0 0 1 -2 2h-66z" fill="#2929ff"/>
<text class="lb" x="1472.4" y="421.6" textLength="54.2" lengthAdjust="spacing" fill="#fff">18.650128</text>
<text x="1321.2" y="179.6" font-size="13" font-weight="bold" fill="#333" textLength="52.6" lengthAdjust="spacing">19.9185</text>
<text x="1320.4" y="282.9" font-size="13" font-weight="bold" fill="#333" textLength="101.3" lengthAdjust="spacing">April 2020 High</text>
<text x="1316.5" y="518" font-size="13" font-weight="bold" fill="#333" textLength="54" lengthAdjust="spacing">18.0440</text>
<text x="18.6" y="709.5" font-size="11.5" fill="#434651" textLength="16.5" lengthAdjust="spacingAndGlyphs">RSI</text>
<text x="41.6" y="709.5" font-size="11.5" fill="#7e57c2" textLength="28.6" lengthAdjust="spacing">61.83</text>
<text x="79" y="709.5" font-size="11.5" fill="#fbe64d" textLength="28.6" lengthAdjust="spacing">48.87</text>
<text x="119" y="709.5" font-size="11" fill="#434651" text-anchor="middle">∅</text>
<text x="134" y="709.5" font-size="11" fill="#434651" text-anchor="middle">∅</text>
<text x="150" y="709.5" font-size="11" fill="#434651" text-anchor="middle">∅</text>
<text x="165.4" y="709.5" font-size="11" fill="#434651" text-anchor="middle">∅</text>
<path d="M1439.2 713.1h23.8v16.8h-23.8a2 2 0 0 1 -2 -2v-12.8a2 2 0 0 1 2 -2z" fill="#7e57c2"/>
<text x="1442" y="725.7" font-size="11.5" font-weight="bold" fill="#fff" textLength="16.5" lengthAdjust="spacingAndGlyphs">RSI</text>
<path d="M1464 713.1h41a2 2 0 0 1 2 2v12.8a2 2 0 0 1 -2 2h-41z" fill="#7e57c2"/>
<text class="lb" x="1472" y="725.7" textLength="29.5" lengthAdjust="spacing">61.83</text>
<path d="M1385 739.2h78v16.8h-78a2 2 0 0 1 -2 -2v-12.8a2 2 0 0 1 2 -2z" fill="#ffeb3b"/>
<text x="1387.6" y="751.8" font-size="11.5" font-weight="normal" fill="#131722" textLength="70.5" lengthAdjust="spacingAndGlyphs">RSI-based MA</text>
<path d="M1464 739.2h41a2 2 0 0 1 2 2v12.8a2 2 0 0 1 -2 2h-41z" fill="#ffeb3b"/>
<text class="ax" x="1472" y="751.8" textLength="29.3" lengthAdjust="spacing">48.87</text>
<text class="ax" x="1472" y="768.9" textLength="29.3" lengthAdjust="spacing">40.00</text>
<text class="tm" x="56.9" y="812">Jun</text>
<text class="tm" x="157.5" y="812">Jul</text>
<text class="tm" x="253.5" y="812">Aug</text>
<text class="tm" x="358.6" y="812">Sep</text>
<text class="tm" x="454.6" y="812">Oct</text>
<text class="tm" x="555.2" y="812">Nov</text>
<text class="tm" x="655.8" y="812">Dec</text>
<text class="tm" x="857.0" y="812">Feb</text>
<text class="tm" x="953.0" y="812">Mar</text>
<text class="tm" x="1049.0" y="812">Apr</text>
<text class="tm" x="1149.6" y="812">May</text>
<text class="tm" x="1254.7" y="812">Jun</text>
<text class="tm" x="1348.9" y="812">Jul</text>
<text class="tm" x="1453.2" y="812">Aug</text>
<text class="tm" x="751.7" y="812" font-weight="bold" textLength="27.2" lengthAdjust="spacing">2024</text>
<path d="M10.1 834.2h8.7v9.3h-4.5v-5.2h-4.2z M25.2 834.2h4.6l-3.8 9.3h-4.6z" fill="#131722"/><circle cx="21.1" cy="836.2" r="2.05" fill="#131722"/>
<text x="34" y="843.8" font-size="13" fill="#131722" textLength="69" lengthAdjust="spacing">TradingView</text>
<path d="M1312.9 768.5 L1321.9 768.5 L1320.2 776.5 L1311.2 776.5 M1300.4 816.5 L1306.7 810.5 L1314.6 797.5 M1335.6 765.5 L1327.4 775.5 M1330.3 771.5 L1364.3 771.5 M1329.1 781.5 L1358.1 781.5 L1351.5 811.5 L1346.6 815.5 L1319.6 815.5 M1331.1 781.5 L1321.6 815.5 M1314.0 795.5 L1362.0 795.5 M1340.0 786.5 L1341.9 791.5 M1335.5 802.5 L1337.1 808.5 M1373.2 769.5 L1418.2 769.5 L1411.6 790.5 M1381.6 772.5 L1374.9 793.5 L1415.9 793.5 L1410.0 811.5 L1404.9 816.5 L1388.9 816.5 M1362.3 805.5 L1403.3 805.5 M1430.4 768.5 L1423.0 802.5 M1430.2 769.5 L1454.2 769.5 L1447.0 802.5 M1441.1 774.5 L1435.4 800.5 M1433.2 801.5 L1427.0 811.5 L1416.7 817.5 M1440.5 804.5 L1445.7 817.5 M1457.5 777.5 L1487.5 777.5 M1480.1 765.5 L1469.8 812.5 L1464.9 816.5 L1456.9 816.5 M1474.6 781.5 L1464.3 796.5 L1451.6 808.5 M1505.4 766.5 L1492.5 779.5 L1501.5 779.5 L1487.2 794.5 L1502.7 792.5 M1480.5 811.5 L1498.8 805.5 M1514.3 771.5 L1540.3 771.5 L1528.9 782.5 L1512.4 793.5 M1519.7 778.5 L1528.0 786.5 L1540.7 792.5 M1507.9 800.5 L1536.9 800.5 M1521.9 800.5 L1518.6 815.5 M1499.4 816.5 L1536.4 816.5" filter="url(#ws)" fill="none" stroke="#fff" stroke-width="8.8" stroke-linejoin="miter" stroke-linecap="butt"/><path d="M1312.9 768.5 L1321.9 768.5 L1320.2 776.5 L1311.2 776.5 M1300.4 816.5 L1306.7 810.5 L1314.6 797.5 M1335.6 765.5 L1327.4 775.5 M1330.3 771.5 L1364.3 771.5 M1329.1 781.5 L1358.1 781.5 L1351.5 811.5 L1346.6 815.5 L1319.6 815.5 M1331.1 781.5 L1321.6 815.5 M1314.0 795.5 L1362.0 795.5 M1340.0 786.5 L1341.9 791.5 M1335.5 802.5 L1337.1 808.5 M1373.2 769.5 L1418.2 769.5 L1411.6 790.5 M1381.6 772.5 L1374.9 793.5 L1415.9 793.5 L1410.0 811.5 L1404.9 816.5 L1388.9 816.5 M1362.3 805.5 L1403.3 805.5 M1430.4 768.5 L1423.0 802.5 M1430.2 769.5 L1454.2 769.5 L1447.0 802.5 M1441.1 774.5 L1435.4 800.5 M1433.2 801.5 L1427.0 811.5 L1416.7 817.5 M1440.5 804.5 L1445.7 817.5 M1457.5 777.5 L1487.5 777.5 M1480.1 765.5 L1469.8 812.5 L1464.9 816.5 L1456.9 816.5 M1474.6 781.5 L1464.3 796.5 L1451.6 808.5 M1505.4 766.5 L1492.5 779.5 L1501.5 779.5 L1487.2 794.5 L1502.7 792.5 M1480.5 811.5 L1498.8 805.5 M1514.3 771.5 L1540.3 771.5 L1528.9 782.5 L1512.4 793.5 M1519.7 778.5 L1528.0 786.5 L1540.7 792.5 M1507.9 800.5 L1536.9 800.5 M1521.9 800.5 L1518.6 815.5 M1499.4 816.5 L1536.4 816.5" fill="none" stroke="#fbfbfc" stroke-opacity="0.6" stroke-width="8.8" stroke-linejoin="miter" stroke-linecap="butt"/><text transform="translate(1312.8 853.2) scale(1.1 1)" x="0" y="0" font-size="33" font-weight="bold" font-style="italic" fill="#8d86b6" stroke="#8d86b6" stroke-width="1.0" stroke-linejoin="round">z</text><text transform="translate(1339.9 853.2) scale(1.1 1)" x="0" y="0" font-size="33" font-weight="bold" font-style="italic" fill="#8d86b6" stroke="#8d86b6" stroke-width="1.0" stroke-linejoin="round">z</text><text transform="translate(1368.0 853.2) scale(1.1 1)" x="0" y="0" font-size="33" font-weight="bold" font-style="italic" fill="#8d86b6" stroke="#8d86b6" stroke-width="1.0" stroke-linejoin="round">r</text><text transform="translate(1392.7 853.2) scale(1.1 1)" x="0" y="0" font-size="33" font-weight="bold" font-style="italic" fill="#8d86b6" stroke="#8d86b6" stroke-width="1.0" stroke-linejoin="round">t</text><text transform="translate(1412.6 853.2) scale(1.1 1)" x="0" y="0" font-size="33" font-weight="bold" font-style="italic" fill="#8d86b6" stroke="#8d86b6" stroke-width="1.0" stroke-linejoin="round">0</text><text transform="translate(1444.0 853.2) scale(1.1 1)" x="0" y="0" font-size="33" font-weight="bold" font-style="italic" fill="#8d86b6" stroke="#8d86b6" stroke-width="1.0" stroke-linejoin="round">1</text><text transform="translate(1469.4 853.2) scale(1.1 1)" x="0" y="0" font-size="33" font-weight="bold" font-style="italic" fill="#8d86b6" stroke="#8d86b6" stroke-width="1.0" stroke-linejoin="round">.</text><text transform="translate(1490.5 853.2) scale(1.1 1)" x="0" y="0" font-size="33" font-weight="bold" font-style="italic" fill="#8d86b6" stroke="#8d86b6" stroke-width="1.0" stroke-linejoin="round">c</text><text transform="translate(1515.2 853.2) scale(1.1 1)" x="0" y="0" font-size="33" font-weight="bold" font-style="italic" fill="#8d86b6" stroke="#8d86b6" stroke-width="1.0" stroke-linejoin="round">n</text><text transform="translate(1311.4 852.0) scale(1.1 1)" x="0" y="0" font-size="33" font-weight="bold" font-style="italic" fill="#8fcfc8" stroke="#8fcfc8" stroke-width="1.0" stroke-linejoin="round">z</text><text transform="translate(1338.5 852.0) scale(1.1 1)" x="0" y="0" font-size="33" font-weight="bold" font-style="italic" fill="#8fcfc8" stroke="#8fcfc8" stroke-width="1.0" stroke-linejoin="round">z</text><text transform="translate(1366.6 852.0) scale(1.1 1)" x="0" y="0" font-size="33" font-weight="bold" font-style="italic" fill="#8fcfc8" stroke="#8fcfc8" stroke-width="1.0" stroke-linejoin="round">r</text><text transform="translate(1391.3 852.0) scale(1.1 1)" x="0" y="0" font-size="33" font-weight="bold" font-style="italic" fill="#8fcfc8" stroke="#8fcfc8" stroke-width="1.0" stroke-linejoin="round">t</text><text transform="translate(1411.2 852.0) scale(1.1 1)" x="0" y="0" font-size="33" font-weight="bold" font-style="italic" fill="#8fcfc8" stroke="#8fcfc8" stroke-width="1.0" stroke-linejoin="round">0</text><text transform="translate(1442.6 852.0) scale(1.1 1)" x="0" y="0" font-size="33" font-weight="bold" font-style="italic" fill="#8fcfc8" stroke="#8fcfc8" stroke-width="1.0" stroke-linejoin="round">1</text><text transform="translate(1468.0 852.0) scale(1.1 1)" x="0" y="0" font-size="33" font-weight="bold" font-style="italic" fill="#8fcfc8" stroke="#8fcfc8" stroke-width="1.0" stroke-linejoin="round">.</text><text transform="translate(1489.1 852.0) scale(1.1 1)" x="0" y="0" font-size="33" font-weight="bold" font-style="italic" fill="#8fcfc8" stroke="#8fcfc8" stroke-width="1.0" stroke-linejoin="round">c</text><text transform="translate(1513.8 852.0) scale(1.1 1)" x="0" y="0" font-size="33" font-weight="bold" font-style="italic" fill="#8fcfc8" stroke="#8fcfc8" stroke-width="1.0" stroke-linejoin="round">n</text>
</svg></body></html>
